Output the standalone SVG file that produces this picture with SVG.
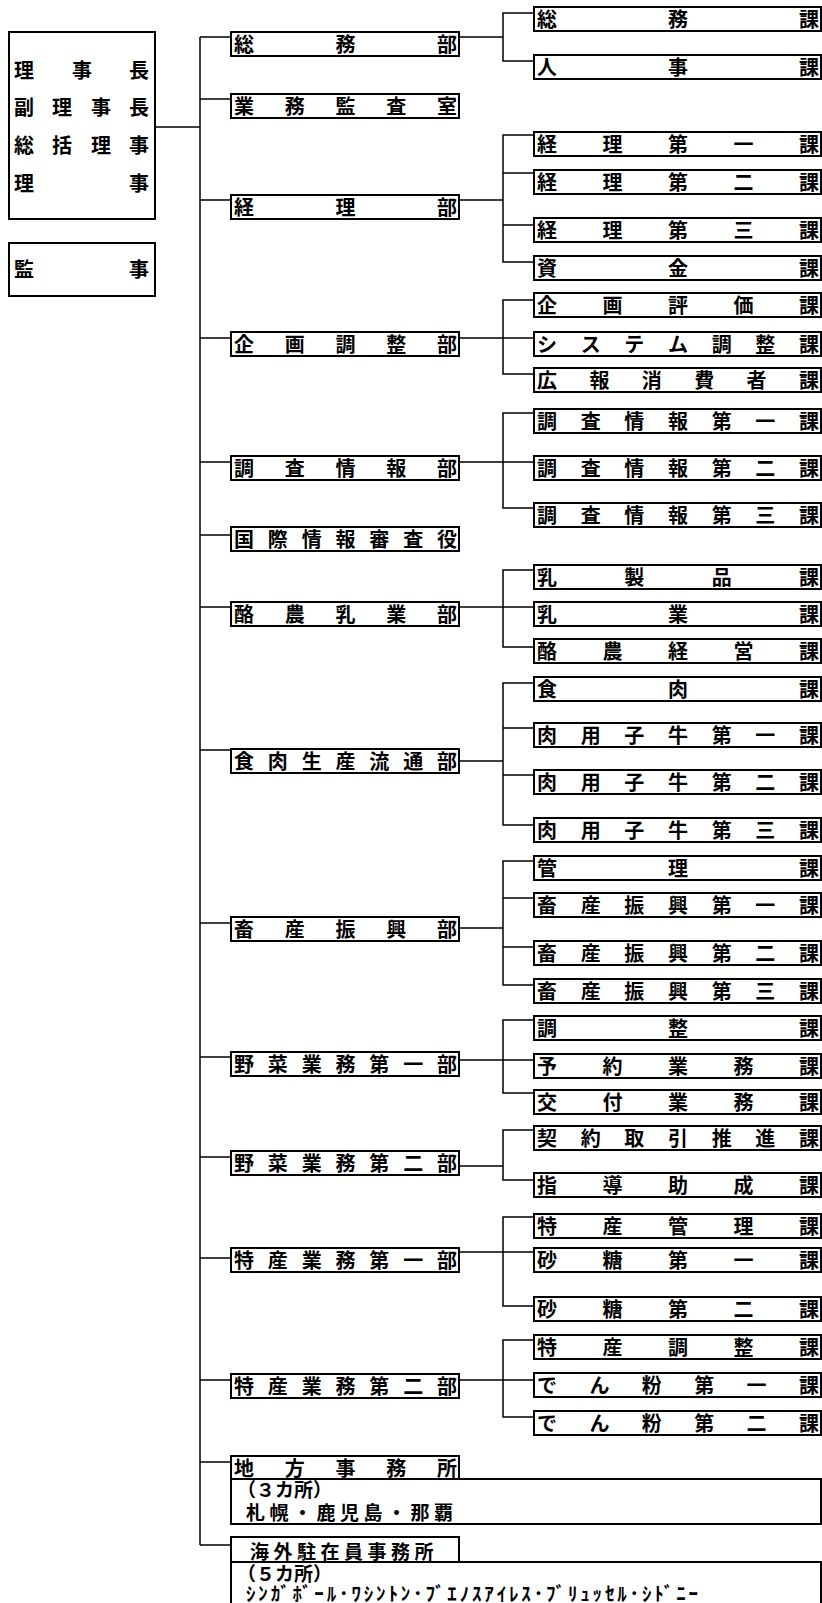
<svg xmlns="http://www.w3.org/2000/svg" width="822" height="1603" viewBox="0 0 822 1603">
<style>
.box{fill:#fff;stroke:#000;stroke-width:2}
.t{font-family:"Noto Sans CJK JP","Noto Sans CJK SC",sans-serif;font-size:20px;font-weight:700;fill:#000}
.s{font-family:"Noto Sans CJK JP","Noto Sans CJK SC",sans-serif;font-size:19px;font-weight:700;fill:#000}
.c{stroke:#000;stroke-width:1.5;fill:none}
</style>
<rect width="822" height="1603" fill="#fff"/>
<g id="connectors" class="c">
<path d="M155,127H200M200,37V1545"/>
<path d="M200,37H231M200,99H231M200,200H231M200,338H231M200,462H231M200,535H231M200,607H231M200,750H231M200,923H231M200,1057H231M200,1157H231M200,1258H231M200,1380H231M200,1462H231M200,1545H231"/>
<path d="M459,37H503M534,13H503V61H534"/>
<path d="M459,200H503M534,135H503V262H534M503,173H534M503,225H534"/>
<path d="M459,338H503M534,300H503V374H534M503,338H534"/>
<path d="M459,462H503M534,413H503V508H534M503,462H534"/>
<path d="M459,607H503M534,570H503V647H534M503,607H534"/>
<path d="M459,761H503M534,683H503V825H534M503,728H534M503,775H534"/>
<path d="M459,928H503M534,861H503V985H534M503,898H534M503,947H534"/>
<path d="M459,1060H503M534,1020H503V1093H534M503,1060H534"/>
<path d="M459,1166H503M534,1130H503V1180H534"/>
<path d="M459,1252H503M534,1217H503V1306H534M503,1252H534"/>
<path d="M459,1380H503M534,1340H503V1417H534M503,1380H534"/>
</g>
<g id="executives">
<rect class="box" x="9" y="32" width="146" height="187"/>
<text class="t" x="14 72 129" y="78">理事長</text>
<text class="t" x="14 52 91 129" y="115">副理事長</text>
<text class="t" x="14 52 91 129" y="153">総括理事</text>
<text class="t" x="14 129" y="191">理事</text>
</g>
<g id="auditor">
<rect class="box" x="9" y="243" width="146" height="53"/>
<text class="t" x="14 129" y="277">監事</text>
</g>
<g id="soumubu"><rect class="box" x="231" y="32" width="228" height="24"/><text class="t" x="234 335.5 437" y="52">総務部</text></g>
<g id="gyoumukansa"><rect class="box" x="231" y="94" width="228" height="24"/><text class="t" x="234 284.75 335.5 386.25 437" y="114">業務監査室</text></g>
<g id="keiribu"><rect class="box" x="231" y="195" width="228" height="24"/><text class="t" x="234 335.5 437" y="215">経理部</text></g>
<g id="kikakubu"><rect class="box" x="231" y="332" width="228" height="24"/><text class="t" x="234 284.75 335.5 386.25 437" y="352">企画調整部</text></g>
<g id="chousabu"><rect class="box" x="231" y="456" width="228" height="24"/><text class="t" x="234 284.75 335.5 386.25 437" y="476">調査情報部</text></g>
<g id="kokusai"><rect class="box" x="231" y="527" width="228" height="24"/><text class="t" x="234 267.83 301.67 335.5 369.33 403.17 437" y="547">国際情報審査役</text></g>
<g id="rakuloubu"><rect class="box" x="231" y="602" width="228" height="24"/><text class="t" x="234 284.75 335.5 386.25 437" y="622">酪農乳業部</text></g>
<g id="shokunikubu"><rect class="box" x="231" y="749" width="228" height="24"/><text class="t" x="234 267.83 301.67 335.5 369.33 403.17 437" y="769">食肉生産流通部</text></g>
<g id="chikusanbu"><rect class="box" x="231" y="917" width="228" height="24"/><text class="t" x="234 284.75 335.5 386.25 437" y="937">畜産振興部</text></g>
<g id="yasai1bu"><rect class="box" x="231" y="1052" width="228" height="24"/><text class="t" x="234 267.83 301.67 335.5 369.33 403.17 437" y="1072">野菜業務第一部</text></g>
<g id="yasai2bu"><rect class="box" x="231" y="1151" width="228" height="24"/><text class="t" x="234 267.83 301.67 335.5 369.33 403.17 437" y="1171">野菜業務第二部</text></g>
<g id="tokusan1bu"><rect class="box" x="231" y="1248" width="228" height="24"/><text class="t" x="234 267.83 301.67 335.5 369.33 403.17 437" y="1268">特産業務第一部</text></g>
<g id="tokusan2bu"><rect class="box" x="231" y="1374" width="228" height="24"/><text class="t" x="234 267.83 301.67 335.5 369.33 403.17 437" y="1394">特産業務第二部</text></g>
<g id="chihou">
<rect class="box" x="231" y="1456" width="228" height="23"/>
<text class="t" x="234 284.75 335.5 386.25 437" y="1476">地方事務所</text>
<rect class="box" x="231" y="1479" width="590" height="45"/>
<text class="s" x="237" y="1497">（３カ所）</text>
<text class="s" x="246" y="1520" letter-spacing="4.5">札幌・鹿児島・那覇</text>
</g>
<g id="kaigai">
<rect class="box" x="231" y="1537" width="228" height="25"/>
<text class="s" x="250" y="1559" letter-spacing="4.5">海外駐在員事務所</text>
<path class="box" d="M231,1604V1562H821V1604"/>
<text class="s" x="237" y="1581">（５カ所）</text>
<text class="s" x="246" y="1601" textLength="452" lengthAdjust="spacing">ｼﾝｶﾞﾎﾞｰﾙ･ﾜｼﾝﾄﾝ･ﾌﾞｴﾉｽｱｲﾚｽ･ﾌﾞﾘｭｯｾﾙ･ｼﾄﾞﾆｰ</text>
</g>
<g id="k-soumu"><rect class="box" x="534" y="7" width="287" height="24"/><text class="t" x="537 668 799" y="27">総務課</text></g>
<g id="k-jinji"><rect class="box" x="534" y="55" width="287" height="24"/><text class="t" x="537 668 799" y="75">人事課</text></g>
<g id="k-keiri1"><rect class="box" x="534" y="132" width="287" height="24"/><text class="t" x="537 602.5 668 733.5 799" y="152">経理第一課</text></g>
<g id="k-keiri2"><rect class="box" x="534" y="170" width="287" height="24"/><text class="t" x="537 602.5 668 733.5 799" y="190">経理第二課</text></g>
<g id="k-keiri3"><rect class="box" x="534" y="218" width="287" height="24"/><text class="t" x="537 602.5 668 733.5 799" y="238">経理第三課</text></g>
<g id="k-shikin"><rect class="box" x="534" y="256" width="287" height="24"/><text class="t" x="537 668 799" y="276">資金課</text></g>
<g id="k-kikakuhyouka"><rect class="box" x="534" y="293" width="287" height="24"/><text class="t" x="537 602.5 668 733.5 799" y="313">企画評価課</text></g>
<g id="k-system"><rect class="box" x="534" y="332" width="287" height="24"/><text class="t" x="537 580.67 624.33 668 711.67 755.33 799" y="352">システム調整課</text></g>
<g id="k-kouhou"><rect class="box" x="534" y="368" width="287" height="24"/><text class="t" x="537 589.4 641.8 694.2 746.6 799" y="388">広報消費者課</text></g>
<g id="k-chousa1"><rect class="box" x="534" y="409" width="287" height="24"/><text class="t" x="537 580.67 624.33 668 711.67 755.33 799" y="429">調査情報第一課</text></g>
<g id="k-chousa2"><rect class="box" x="534" y="456" width="287" height="24"/><text class="t" x="537 580.67 624.33 668 711.67 755.33 799" y="476">調査情報第二課</text></g>
<g id="k-chousa3"><rect class="box" x="534" y="503" width="287" height="24"/><text class="t" x="537 580.67 624.33 668 711.67 755.33 799" y="523">調査情報第三課</text></g>
<g id="k-nyuseihin"><rect class="box" x="534" y="565" width="287" height="24"/><text class="t" x="537 624.33 711.67 799" y="585">乳製品課</text></g>
<g id="k-nyugyou"><rect class="box" x="534" y="602" width="287" height="24"/><text class="t" x="537 668 799" y="622">乳業課</text></g>
<g id="k-rakunou"><rect class="box" x="534" y="639" width="287" height="24"/><text class="t" x="537 602.5 668 733.5 799" y="659">酪農経営課</text></g>
<g id="k-shokuniku"><rect class="box" x="534" y="677" width="287" height="24"/><text class="t" x="537 668 799" y="697">食肉課</text></g>
<g id="k-niku1"><rect class="box" x="534" y="723" width="287" height="24"/><text class="t" x="537 580.67 624.33 668 711.67 755.33 799" y="743">肉用子牛第一課</text></g>
<g id="k-niku2"><rect class="box" x="534" y="770" width="287" height="24"/><text class="t" x="537 580.67 624.33 668 711.67 755.33 799" y="790">肉用子牛第二課</text></g>
<g id="k-niku3"><rect class="box" x="534" y="818" width="287" height="24"/><text class="t" x="537 580.67 624.33 668 711.67 755.33 799" y="838">肉用子牛第三課</text></g>
<g id="k-kanri"><rect class="box" x="534" y="856" width="287" height="24"/><text class="t" x="537 668 799" y="876">管理課</text></g>
<g id="k-chikusan1"><rect class="box" x="534" y="893" width="287" height="24"/><text class="t" x="537 580.67 624.33 668 711.67 755.33 799" y="913">畜産振興第一課</text></g>
<g id="k-chikusan2"><rect class="box" x="534" y="941" width="287" height="24"/><text class="t" x="537 580.67 624.33 668 711.67 755.33 799" y="961">畜産振興第二課</text></g>
<g id="k-chikusan3"><rect class="box" x="534" y="979" width="287" height="24"/><text class="t" x="537 580.67 624.33 668 711.67 755.33 799" y="999">畜産振興第三課</text></g>
<g id="k-chousei"><rect class="box" x="534" y="1016" width="287" height="24"/><text class="t" x="537 668 799" y="1036">調整課</text></g>
<g id="k-yoyaku"><rect class="box" x="534" y="1054" width="287" height="24"/><text class="t" x="537 602.5 668 733.5 799" y="1074">予約業務課</text></g>
<g id="k-koufu"><rect class="box" x="534" y="1090" width="287" height="24"/><text class="t" x="537 602.5 668 733.5 799" y="1110">交付業務課</text></g>
<g id="k-keiyaku"><rect class="box" x="534" y="1126" width="287" height="24"/><text class="t" x="537 580.67 624.33 668 711.67 755.33 799" y="1146">契約取引推進課</text></g>
<g id="k-shidou"><rect class="box" x="534" y="1173" width="287" height="24"/><text class="t" x="537 602.5 668 733.5 799" y="1193">指導助成課</text></g>
<g id="k-tokusankanri"><rect class="box" x="534" y="1214" width="287" height="24"/><text class="t" x="537 602.5 668 733.5 799" y="1234">特産管理課</text></g>
<g id="k-satou1"><rect class="box" x="534" y="1248" width="287" height="24"/><text class="t" x="537 602.5 668 733.5 799" y="1268">砂糖第一課</text></g>
<g id="k-satou2"><rect class="box" x="534" y="1297" width="287" height="24"/><text class="t" x="537 602.5 668 733.5 799" y="1317">砂糖第二課</text></g>
<g id="k-tokusanchousei"><rect class="box" x="534" y="1335" width="287" height="24"/><text class="t" x="537 602.5 668 733.5 799" y="1355">特産調整課</text></g>
<g id="k-denpun1"><rect class="box" x="534" y="1373" width="287" height="24"/><text class="t" x="537 589.4 641.8 694.2 746.6 799" y="1393">でん粉第一課</text></g>
<g id="k-denpun2"><rect class="box" x="534" y="1411" width="287" height="24"/><text class="t" x="537 589.4 641.8 694.2 746.6 799" y="1431">でん粉第二課</text></g>
</svg>
